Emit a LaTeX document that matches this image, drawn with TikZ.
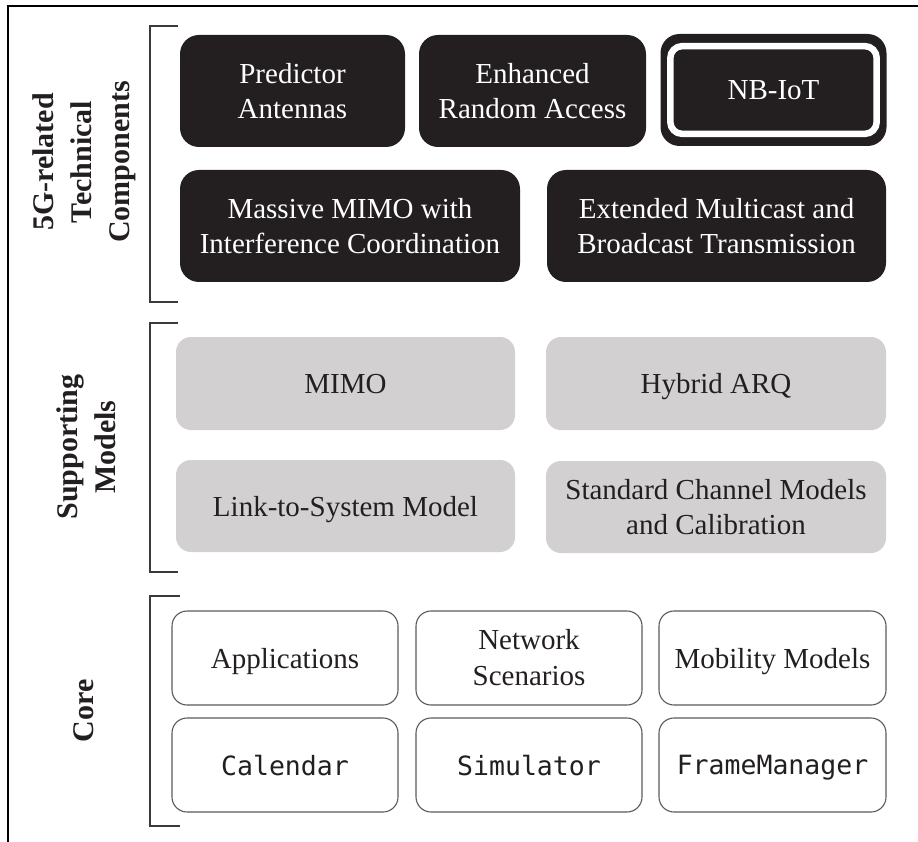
\documentclass[tikz,border=0pt]{standalone}
\usepackage{fontspec}
\setmainfont{Liberation Serif}
\newfontfamily\codefont{DejaVu Sans Mono}
\definecolor{ink}{HTML}{231F20}
\definecolor{panel}{HTML}{D2D0D1}
\definecolor{edge}{HTML}{5A5A5A}
\definecolor{brk}{HTML}{3A3A3A}
\tikzset{
  techbox/.style={rounded corners=19pt, fill=ink, draw=none, text=white,
    align=center, inner sep=0pt, font=\fontsize{29}{35}\selectfont},
  supbox/.style={rounded corners=15pt, fill=panel, draw=none, text=ink,
    align=center, inner sep=0pt, font=\fontsize{29}{35}\selectfont},
  corebox/.style={rounded corners=15pt, fill=white, draw=edge, line width=1.1pt,
    text=ink, align=center, inner sep=0pt, font=\fontsize{29}{36}\selectfont},
  codebox/.style={corebox, font=\codefont\fontsize{26.5}{32}\selectfont},
  oneline/.style={text depth=0pt},
  sidelabel/.style={rotate=90, align=center, text=ink,
    font=\bfseries\fontsize{30}{38}\selectfont},
  bracketline/.style={draw=brk, line width=1.3pt},
}
\begin{document}
\begin{tikzpicture}[x=1pt,y=-1pt]
\useasboundingbox (0,0) rectangle (918,842);
% outer frame (top and left edges)
\draw[line width=1.3pt] (8,842) -- (8,6) -- (918,6);

% group brackets
\draw[bracketline] (178,26) -- (150,26) -- (150,302) -- (178,302);
\draw[bracketline] (178,323) -- (150,323) -- (150,572) -- (178,572);
\draw[bracketline] (180,596) -- (150,596) -- (150,826) -- (180,826);

% group labels
\node[sidelabel] (lab5g) at (84,162) {5G-related\\Technical\\Components};
\node[sidelabel] (labsup) at (86,447) {Supporting\\Models};
\node[sidelabel] (labcore) at (84,711) {Core};

% 5G-related technical components
\node[techbox, minimum width=225pt, minimum height=112pt] (pred) at (292.5,91) {Predictor\\Antennas};
\node[techbox, minimum width=227pt, minimum height=112pt] (era) at (532.5,91) {Enhanced\\Random Access};
\node[techbox, oneline, minimum width=226pt, minimum height=112pt] (nbiot) at (773.5,90) {NB-IoT};
\draw[white, line width=6.5pt, rounded corners=12pt]
  ([xshift=10pt,yshift=-12.3pt]nbiot.north west) rectangle ([xshift=-10pt,yshift=12.3pt]nbiot.south east);
\node[techbox, minimum width=340pt, minimum height=112pt] (mmimo) at (350,226) {Massive MIMO with\\Interference Coordination};
\node[techbox, minimum width=339pt, minimum height=112pt] (embms) at (716.5,226) {Extended Multicast and\\Broadcast Transmission};

% supporting models
\node[supbox, oneline, minimum width=339pt, minimum height=93pt] (mimo) at (345.5,383.5) {MIMO};
\node[supbox, oneline, minimum width=340pt, minimum height=93pt] (harq) at (716,383.5) {Hybrid ARQ};
\node[supbox, oneline, minimum width=339pt, minimum height=92pt] (l2s) at (345.5,506) {Link-to-System Model};
\node[supbox, minimum width=340pt, minimum height=92pt] (chan) at (716,507) {Standard Channel Models\\and Calibration};

% core
\node[corebox, oneline, minimum width=226pt, minimum height=94pt] (apps) at (285,658) {Applications};
\node[corebox, minimum width=226pt, minimum height=94pt] (scen) at (529,658) {Network\\Scenarios};
\node[corebox, oneline, minimum width=227pt, minimum height=94pt] (mob) at (772.5,658) {Mobility Models};
\node[codebox, oneline, minimum width=226pt, minimum height=94pt] (cal) at (285,765) {Calendar};
\node[codebox, oneline, minimum width=226pt, minimum height=94pt] (sim) at (529,765) {Simulator};
\node[codebox, oneline, minimum width=227pt, minimum height=94pt] (fm) at (772.5,765) {FrameManager};
\end{tikzpicture}
\end{document}
